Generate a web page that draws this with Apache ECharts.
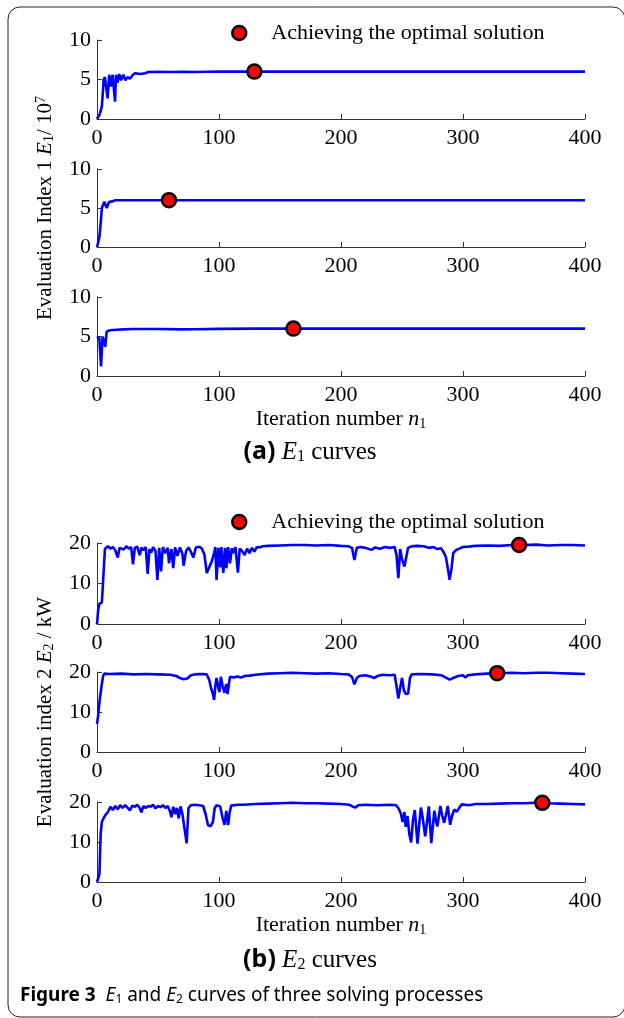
<!DOCTYPE html>
<html>
<head>
<meta charset="utf-8">
<script src="https://cdn.jsdelivr.net/npm/echarts@6/dist/echarts.min.js"></script>
<style>
html,body{margin:0;padding:0;background:#fff;}
#chart{width:624px;height:1018px;}
</style>
</head>
<body>
<div id="chart"></div>
<script>
// ---------- DATA ----------
const xTicks = [0, 100, 200, 300, 400];
const e1Ticks = [0, 5, 10];
const e2Ticks = [0, 10, 20];
const legendLabel = 'Achieving the optimal solution';

const e1Run1 = [[0,0],[2,0.5],[4,1.6],[5.5,5.0],[6.5,5.3],[7.5,5.5],[8.7,2.6],[10,5.6],[11.2,4.1],[12.8,5.6],[14.8,2.2],[15.6,5.6],[16.7,4.6],[18.3,5.7],[19.7,4.9],[21.6,5.6],[23.3,4.9],[24.9,5.3],[27,5.1],[29.5,5.6],[31.4,5.8],[35.5,5.7],[39.6,5.8],[42,5.95],[50,5.97],[60,5.95],[70,5.97],[80,5.95],[90,5.98],[100,6.0],[120,6.0],[140,6.0],[160,6.0],[200,6.0],[250,6.0],[300,6.0],[350,6.0],[400,6.0]];
const e1Run2 = [[0,0],[1,0.6],[2,1.3],[3,3.0],[4,5.0],[5,5.0],[6,5.8],[7,5.8],[8,5.0],[9,5.0],[10,5.8],[13,5.85],[15,6.0],[30,6.0],[58,6.0],[100,6.0],[150,6.0],[200,6.0],[250,6.0],[300,6.0],[350,6.0],[400,6.0]];
const e1Run3 = [[0,5.0],[1.9,4.8],[3.3,1.2],[4.6,5.0],[5.7,5.2],[6.8,3.7],[7.9,5.6],[10.7,5.8],[16,5.85],[21.6,5.9],[30,5.95],[50,5.95],[70,5.9],[80,5.92],[100,5.97],[130,6.0],[161,6.0],[200,6.0],[250,6.0],[300,6.0],[350,6.0],[400,6.0]];

const e2Run1 = [[0,0],[1,3.5],[2,5.0],[4,5.3],[5.5,5.5],[6.5,18.5],[8,18.3],[9,19.2],[11,18.6],[13,19.0],[15,18.2],[17,16.4],[18.5,18.8],[20,19.1],[22,18.4],[24,19.2],[26,18.6],[28,19.0],[29.5,14.7],[31,18.8],[33,19.1],[35,17.0],[36.5,18.9],[38,18.2],[40,19.0],[41.5,12.4],[43,18.5],[44.5,17.6],[46,19.0],[48,18.0],[49.5,10.9],[51,18.8],[52.5,13.0],[54,19.0],[56,17.5],[58,18.8],[59,15.0],[61,18.5],[62.5,13.8],[64,18.9],[66,16.8],[68,18.9],[70,17.4],[71,14.4],[73,18.0],[75,18.9],[77,17.8],[79,16.4],[81,18.9],[84,19.1],[86,18.6],[88,17.2],[90,12.6],[92,14.0],[94,15.4],[96,17.5],[97,19.0],[98,10.9],[99.5,18.8],[101,14.0],[102,19.0],[103.5,12.6],[105,18.8],[106,13.8],[107.5,19.0],[109,15.0],[110.5,18.7],[112,17.5],[113.5,19.0],[115.5,12.7],[117,18.6],[119,18.0],[121,17.0],[123,18.6],[125,17.5],[127,18.8],[129,17.9],[131,19.0],[133,18.9],[136,19.2],[140,19.3],[150,19.4],[160,19.5],[170,19.5],[180,19.4],[190,19.5],[200,19.3],[206,19.2],[209,18.8],[211,15.8],[213,18.8],[216,19.0],[220,18.8],[225,18.3],[228,18.9],[232,18.6],[236,19.0],[240,18.8],[244,19.0],[245.5,17.0],[247,11.3],[248.5,18.5],[250,16.0],[252,14.2],[253.5,13.8],[255,18.8],[258,19.2],[262,19.3],[268,19.2],[272,18.8],[276,19.0],[279,18.5],[282,18.7],[284,17.8],[286,16.5],[288,13.0],[289,10.9],[290.5,13.5],[292,17.5],[294,18.2],[297,18.6],[300,19.0],[305,19.1],[310,19.3],[320,19.4],[330,19.3],[340,19.5],[350,19.5],[360,19.6],[370,19.4],[380,19.5],[390,19.5],[400,19.4]];
const e2Run2 = [[0,7.0],[1,9.2],[2,12.5],[3.5,16],[5,19.0],[6,19.6],[10,19.5],[20,19.6],[30,19.4],[40,19.5],[50,19.4],[60,19.3],[65,19.0],[68,18.5],[71,18.2],[74,18.4],[77,19.2],[80,19.4],[85,19.5],[90,19.4],[92,18.0],[93.5,16.0],[95,14.5],[96,13.0],[97,16.5],[98,18.5],[99.5,16.0],[100.5,15.0],[101.5,18.8],[103,16.5],[104.5,14.8],[106,17.0],[107,14.5],[108,14.4],[109,18.8],[112,18.6],[115,18.9],[118,18.6],[121,19.0],[125,19.1],[130,19.3],[140,19.6],[150,19.7],[160,19.8],[170,19.7],[180,19.6],[190,19.7],[200,19.5],[206,19.4],[209,18.8],[211,16.9],[213,18.5],[215,19.0],[220,19.2],[224,18.9],[227,18.5],[230,19.0],[234,19.3],[240,19.2],[244,19.3],[245.5,16.5],[247,13.4],[248.5,16.0],[250,18.5],[251.5,15.5],[253,14.5],[255,14.6],[256.5,18.5],[258,19.4],[265,19.5],[275,19.4],[282,19.2],[286,18.6],[289,18.1],[292,18.5],[296,19.0],[300,19.2],[302,18.6],[304,19.2],[310,19.4],[320,19.6],[330,19.7],[340,19.8],[350,19.7],[360,19.8],[370,19.8],[380,19.7],[390,19.6],[400,19.5]];
const e2Run3 = [[0,0],[1,0.5],[2,2],[3,12],[4,15],[5.5,16],[7,16.8],[9,17.5],[11,18.8],[13,18.0],[15,19.0],[17,18.2],[19,19.2],[21,18.5],[23,19.2],[25,18.6],[27,17.9],[29,19.1],[31,18.8],[33,19.3],[35,18.5],[36.5,17.4],[38,19.0],[40,18.5],[42,19.0],[44,18.8],[46,19.3],[48,18.4],[50,19.0],[52,18.7],[54,19.2],[56,18.5],[58,19.0],[60,17.5],[61,16.2],[62.5,18.8],[64,17.0],[65.5,18.5],[67,15.9],[68.5,18.9],[70,17.0],[71.5,16.5],[73.5,9.7],[75,18.5],[77,19.2],[80,19.3],[84,19.2],[87,19.0],[89,17.0],[91,14.2],[93,13.9],[95,15.0],[96.5,18.5],[98,19.2],[101,18.9],[103,16.0],[104.5,14.3],[106,17.8],[107.5,14.2],[108.5,17.0],[110,19.1],[115,19.3],[120,19.3],[130,19.5],[140,19.6],[150,19.7],[160,19.8],[170,19.7],[180,19.7],[190,19.6],[200,19.5],[207,19.3],[210,18.8],[212,18.6],[214,19.2],[220,19.3],[230,19.2],[240,19.3],[245,19.2],[247,18.5],[249,17.2],[250.5,15.0],[252,17.5],[253,13.8],[254.5,16.5],[256,12.0],[257.5,9.9],[259,15.5],[260.5,18.0],[262.7,9.6],[264,14.0],[265.5,18.6],[267,16.0],[269,11.4],[270.5,15.0],[272,18.9],[274,9.7],[276.5,17.8],[278,15.0],[279,13.9],[280.5,17.0],[281.5,19.0],[283,16.5],[284.6,14.8],[286.5,17.5],[287.5,19.0],[289.5,14.3],[291,16.5],[292.8,18.1],[295,17.6],[297,18.6],[299,19.4],[305,19.2],[310,19.5],[320,19.5],[330,19.6],[340,19.7],[350,19.7],[360,19.8],[365,19.8],[370,19.7],[380,19.6],[390,19.5],[400,19.4]];

const e1Optimal = [[129, 6.0], [59, 6.0], [161, 6.0]];
const e2Optimal = [[346, 19.5], [328, 19.7], [365, 19.8]];

// ---------- CHART ----------
const SERIF = "Liberation Serif";
const SANS = "Noto Sans";
const gridTops = [40, 169, 297, 543, 672, 802];
const gridHeights = [79, 78, 79, 81, 80, 80];
const runs = [e1Run1, e1Run2, e1Run3, e2Run1, e2Run2, e2Run3];
const optimal = e1Optimal.concat(e2Optimal);

const tickRich = {t: {fontFamily: SERIF, fontSize: 22, color: '#000'}};
const tickFmt = v => '{t|' + v + '}';

const grids = [], xAxes = [], yAxes = [], series = [];
for (let i = 0; i < 6; i++) {
  grids.push({left: 97, width: 488, top: gridTops[i], height: gridHeights[i], outerBoundsMode: 'none'});
  const isE1 = i < 3;
  const x = {
    gridIndex: i, type: 'value', min: xTicks[0], max: xTicks[xTicks.length - 1], interval: 100,
    axisLine: {lineStyle: {color: '#333', width: 1}},
    axisTick: {inside: true, length: 5, lineStyle: {color: '#333'}},
    splitLine: {show: false},
    axisLabel: {color: '#000', fontFamily: SERIF, fontSize: 22, margin: 8, formatter: tickFmt, rich: tickRich}
  };
  if (i === 2 || i === 5) {
    x.name = '{r|Iteration number }{i|n}{sub|1}';
    x.nameLocation = 'middle';
    x.nameGap = 32;
    x.nameTextStyle = {
      color: '#000', fontFamily: SERIF, fontSize: 22,
      rich: {
        r: {fontFamily: SERIF, fontSize: 22, color: '#000'},
        i: {fontFamily: SERIF, fontSize: 22, fontStyle: 'italic', color: '#000'},
        sub: {fontFamily: SERIF, fontSize: 14, color: '#000', verticalAlign: 'bottom', padding: [9, 0, 0, 0]}
      }
    };
  }
  xAxes.push(x);
  const ticks = isE1 ? e1Ticks : e2Ticks;
  const y = {
    gridIndex: i, type: 'value', min: ticks[0], max: ticks[ticks.length - 1], interval: ticks[1] - ticks[0],
    axisLine: {show: true, lineStyle: {color: '#333', width: 1}},
    axisTick: {show: true, inside: true, length: 5, lineStyle: {color: '#333'}},
    splitLine: {show: false},
    axisLabel: {color: '#000', fontFamily: SERIF, fontSize: 22, margin: 6, formatter: tickFmt, rich: tickRich}
  };
  if (i === 1 || i === 4) {
    y.name = isE1 ? '{r|Evaluation Index 1 }{i|E}{sub|1}{r|/ 10}{sup|7}'
                  : '{r|Evaluation index 2 }{i|E}{sub|2}{r| / kW}';
    y.nameLocation = 'middle';
    y.nameGap = 41;
    y.nameRotate = 90;
    y.nameTextStyle = {
      color: '#000', fontFamily: SERIF, fontSize: 21,
      rich: {
        r: {fontFamily: SERIF, fontSize: 21, color: '#000'},
        i: {fontFamily: SERIF, fontSize: 21, fontStyle: 'italic', color: '#000'},
        sub: {fontFamily: SERIF, fontSize: 14, color: '#000', verticalAlign: 'bottom', padding: [8, 0, 0, 0]},
        sup: {fontFamily: SERIF, fontSize: 14, color: '#000', verticalAlign: 'top', padding: [0, 0, 8, 0]}
      }
    };
  }
  yAxes.push(y);
  series.push({
    type: 'line', xAxisIndex: i, yAxisIndex: i, data: runs[i],
    showSymbol: false, symbol: 'none', silent: true,
    lineStyle: {color: '#0000ff', width: 2.6}, z: 2
  });
  series.push({
    type: 'scatter', name: legendLabel, xAxisIndex: i, yAxisIndex: i, data: [optimal[i]],
    symbol: 'circle', symbolSize: 14,
    itemStyle: {color: '#ff0000', borderColor: '#000', borderWidth: 2.5, opacity: 1}, z: 5
  });
}

const legendCommon = {
  data: [legendLabel], icon: 'circle', itemWidth: 14, itemHeight: 14,
  itemStyle: {color: '#ff0000', borderColor: '#000', borderWidth: 2.5},
  textStyle: {color: '#000', fontFamily: SERIF, fontSize: 22, padding: [0, 0, 0, 20]},
  selectedMode: false, padding: 0
};

function caption(letter, n, y) {
  return {
    type: 'text', x: 310, y: y,
    style: {
      text: '{b|(' + letter + ')}{g| }{i|E}{sub|' + n + '}{r| curves}',
      align: 'center', verticalAlign: 'middle',
      rich: {
        b: {fontFamily: SANS, fontWeight: 'bold', fontSize: 25, color: '#000'},
        g: {fontFamily: SERIF, fontSize: 25, color: '#000'},
        i: {fontFamily: SERIF, fontStyle: 'italic', fontSize: 25, color: '#000'},
        sub: {fontFamily: SERIF, fontSize: 16, color: '#000', verticalAlign: 'bottom', padding: [10, 0, 0, 0]},
        r: {fontFamily: SERIF, fontSize: 25, color: '#000'}
      }
    }
  };
}

const option = {
  animation: false,
  backgroundColor: '#fff',
  textStyle: {fontFamily: SERIF},
  grid: grids, xAxis: xAxes, yAxis: yAxes, series: series,
  legend: [
    Object.assign({left: 231, top: 22}, legendCommon),
    Object.assign({left: 231, top: 511}, legendCommon)
  ],
  graphic: [
    {type: 'rect', shape: {x: 8, y: 7, width: 617, height: 1010, r: 12},
     style: {fill: 'none', stroke: '#222', lineWidth: 1}, silent: true},
    caption('a', '1', 452),
    caption('b', '2', 960),
    {type: 'text', x: 20, y: 996,
     style: {
       text: '{b|Figure 3}{r|  }{i|E}{s|1}{r| and }{i|E}{s|2}{r| curves of three solving processes}',
       verticalAlign: 'middle',
       rich: {
         b: {fontFamily: SANS, fontWeight: 'bold', fontSize: 19, color: '#000'},
         r: {fontFamily: SANS, fontSize: 19, color: '#222'},
         i: {fontFamily: SANS, fontStyle: 'italic', fontSize: 19, color: '#222'},
         s: {fontFamily: SANS, fontSize: 12, color: '#222', verticalAlign: 'bottom', padding: [6, 0, 0, 0]}
       }
     }}
  ]
};

const chart = echarts.init(document.getElementById('chart'), null, {renderer: 'canvas'});
chart.setOption(option);
</script>
</body>
</html>
